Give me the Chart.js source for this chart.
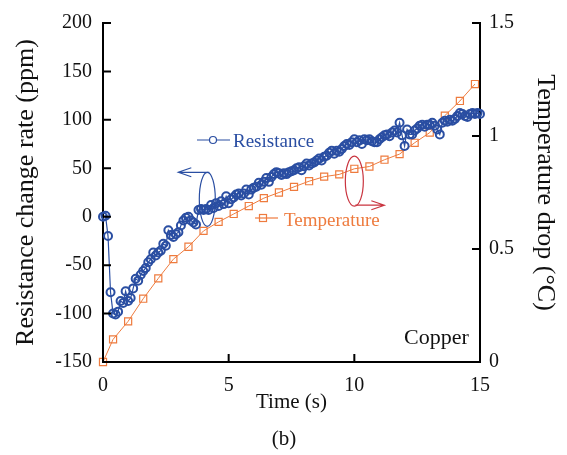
<!DOCTYPE html>
<html>
<head>
<meta charset="utf-8">
<script src="https://cdn.jsdelivr.net/npm/chart.js@4.4.1/dist/chart.umd.min.js"></script>
<style>
    html, body { margin: 0; padding: 0; background: #fff; }
    #wrap { width: 567px; height: 455px; position: relative; }
</style>
</head>
<body>
<div id="wrap"><canvas id="chart"></canvas></div>
<script>
(function () {
    "use strict";

    const serif = "'Liberation Serif', 'Times New Roman', Times, serif";
    const blue = "#2a4ea2";
    const orange = "#ee7b3e";
    const red = "#c9343f";

    // Resistance change rate (ppm) against time (s)
    const resTime = [
        0.0, 0.1, 0.2, 0.3, 0.4, 0.5, 0.6, 0.7, 0.8, 0.9,
        1.0, 1.1, 1.2, 1.3, 1.4, 1.5, 1.6, 1.7, 1.8, 1.9,
        2.0, 2.1, 2.2, 2.3, 2.4, 2.5, 2.6, 2.7, 2.8, 2.9,
        3.0, 3.1, 3.2, 3.3, 3.4, 3.5, 3.6, 3.7, 3.8, 3.9,
        4.0, 4.1, 4.2, 4.3, 4.4, 4.5, 4.6, 4.7, 4.8, 4.9,
        5.0, 5.1, 5.2, 5.3, 5.4, 5.5, 5.6, 5.7, 5.8, 5.9,
        6.0, 6.1, 6.2, 6.3, 6.4, 6.5, 6.6, 6.7, 6.8, 6.9,
        7.0, 7.1, 7.2, 7.3, 7.4, 7.5, 7.6, 7.7, 7.8, 7.9,
        8.0, 8.1, 8.2, 8.3, 8.4, 8.5, 8.6, 8.7, 8.8, 8.9,
        9.0, 9.1, 9.2, 9.3, 9.4, 9.5, 9.6, 9.7, 9.8, 9.9,
        10.0, 10.1, 10.2, 10.3, 10.4, 10.5, 10.6, 10.7, 10.8, 10.9,
        11.0, 11.1, 11.2, 11.3, 11.4, 11.5, 11.6, 11.7, 11.8, 11.9,
        12.0, 12.1, 12.2, 12.3, 12.4, 12.5, 12.6, 12.7, 12.8, 12.9,
        13.0, 13.1, 13.2, 13.3, 13.4, 13.5, 13.6, 13.7, 13.8, 13.9,
        14.0, 14.1, 14.2, 14.3, 14.4, 14.5, 14.6, 14.7, 14.8, 14.9,
        15.0
    ];
    const resPpm = [
        0, 1, -20, -78, -100, -101, -98, -87, -89, -77,
        -87, -84, -74, -64, -66, -60, -56, -53, -47, -44,
        -37, -40, -37, -35, -28, -30, -14, -19, -21, -18,
        -16, -9, -4, -1, 0, -4, -6, -8, 7, 8,
        7, 8, 7, 12, 9, 14, 11, 16, 13, 21,
        14, 18, 20, 23, 24, 22, 24, 28, 23, 28,
        30, 31, 35, 33, 36, 40, 36, 41, 44, 46,
        45, 43, 45, 44, 46, 47, 48, 50, 51, 48,
        52, 55, 53, 55, 56, 58, 60, 58, 62, 63,
        66, 68, 65, 68, 67, 70, 73, 75, 74, 77,
        80, 77, 79, 75, 80, 79, 80, 78, 77, 77,
        80, 82, 84, 85, 83, 87, 89, 87, 97, 84,
        73, 90, 85, 85, 89, 91, 94, 95, 93, 95,
        95, 97, 94, 90, 85, 97, 99, 98, 100, 99,
        101, 104, 107, 106, 104, 103, 106, 107, 106, 107,
        106
    ];

    // Temperature drop (°C) against time (s)
    const tempTime = [
        0, 0.4, 1.0, 1.6, 2.2, 2.8, 3.4, 4.0, 4.6, 5.2, 5.8, 6.4, 7.0,
        7.6, 8.2, 8.8, 9.4, 10.0, 10.6, 11.2, 11.8, 12.4, 13.0, 13.6, 14.2, 14.8
    ];
    const tempDrop = [
        0, 0.10, 0.18, 0.28, 0.37, 0.455, 0.51, 0.58, 0.62, 0.655, 0.69, 0.725, 0.75,
        0.775, 0.80, 0.82, 0.83, 0.855, 0.865, 0.895, 0.92, 0.97, 1.015, 1.09, 1.155, 1.23
    ];

    // Tick values
    const timeTicks = [0, 5, 10, 15];
    const ppmTicks = [-150, -100, -50, 0, 50, 100, 150, 200];
    const tempTicks = [0, 0.5, 1, 1.5];

    const toPoints = (xs, ys) => xs.map((x, i) => ({ x: x, y: ys[i] }));
    const fixTicks = (values) => (scale) => {
        scale.ticks = values.map((v) => ({ value: v }));
    };

    // Inward tick marks and drawn notes
    const decorations = {
        id: "decorations",
        afterDraw(chart) {
            const { ctx, chartArea: a, scales } = chart;
            const len = 8;
            ctx.save();
            ctx.strokeStyle = "#000";
            ctx.lineWidth = 2;
            ctx.beginPath();
            timeTicks.forEach((v) => {
                const px = scales.x.getPixelForValue(v);
                ctx.moveTo(px, a.bottom);
                ctx.lineTo(px, a.bottom - len);
            });
            ppmTicks.forEach((v) => {
                const py = scales.y.getPixelForValue(v);
                ctx.moveTo(a.left, py);
                ctx.lineTo(a.left + len, py);
            });
            tempTicks.forEach((v) => {
                const py = scales.y2.getPixelForValue(v);
                ctx.moveTo(a.right, py);
                ctx.lineTo(a.right - len, py);
            });
            ctx.stroke();

            // blue ellipse with arrow to the left axis
            const bx = scales.x.getPixelForValue(4.15);
            const by = scales.y.getPixelForValue(18);
            ctx.strokeStyle = blue;
            ctx.lineWidth = 1.2;
            ctx.beginPath();
            ctx.ellipse(bx, by, 8, 27, 0, 0, Math.PI * 2);
            ctx.stroke();
            ctx.beginPath();
            ctx.moveTo(bx + 2, by - 27);
            ctx.lineTo(bx - 29, by - 27);
            ctx.moveTo(bx - 16, by - 31.5);
            ctx.lineTo(bx - 29, by - 27);
            ctx.lineTo(bx - 16, by - 22.5);
            ctx.stroke();

            // red ellipse with arrow to the right axis
            const rx = scales.x.getPixelForValue(10.0);
            const ry = scales.y2.getPixelForValue(0.8);
            ctx.strokeStyle = red;
            ctx.beginPath();
            ctx.ellipse(rx, ry, 9, 25, 0, 0, Math.PI * 2);
            ctx.stroke();
            ctx.beginPath();
            ctx.moveTo(rx + 1, ry + 24);
            ctx.lineTo(rx + 30, ry + 24);
            ctx.moveTo(rx + 17, ry + 19.5);
            ctx.lineTo(rx + 30, ry + 24);
            ctx.lineTo(rx + 17, ry + 28.5);
            ctx.stroke();

            // series keys
            ctx.lineWidth = 1.2;
            ctx.strokeStyle = blue;
            ctx.beginPath();
            ctx.moveTo(197, 140);
            ctx.lineTo(230, 140);
            ctx.stroke();
            ctx.beginPath();
            ctx.fillStyle = "#fff";
            ctx.arc(213, 140, 3.5, 0, Math.PI * 2);
            ctx.fill();
            ctx.stroke();

            ctx.strokeStyle = orange;
            ctx.beginPath();
            ctx.moveTo(255, 218);
            ctx.lineTo(278, 218);
            ctx.stroke();
            ctx.strokeRect(259.5, 214.5, 7, 7);

            ctx.font = "19px " + serif;
            ctx.textBaseline = "alphabetic";
            ctx.textAlign = "left";
            ctx.fillStyle = blue;
            ctx.fillText("Resistance", 233, 147);
            ctx.fillStyle = orange;
            ctx.fillText("Temperature", 284, 226);

            ctx.fillStyle = "#111";
            ctx.font = "22px " + serif;
            ctx.fillText("Copper", 404, 344);

            ctx.font = "21px " + serif;
            ctx.textAlign = "center";
            ctx.textBaseline = "middle";
            ctx.fillText("(b)", 284, 439);
            ctx.restore();
        },
    };

    const ctx = document.getElementById("chart").getContext("2d");
    new Chart(ctx, {
        type: "line",
        data: {
            datasets: [
                {
                    label: "Resistance",
                    data: toPoints(resTime, resPpm),
                    yAxisID: "y",
                    borderColor: blue,
                    borderWidth: 1.2,
                    backgroundColor: "rgba(0,0,0,0)",
                    pointStyle: "circle",
                    pointRadius: 4,
                    pointBorderWidth: 2,
                    pointBorderColor: blue,
                    pointBackgroundColor: "rgba(0,0,0,0)",
                    tension: 0,
                    clip: false,
                },
                {
                    label: "Temperature",
                    data: toPoints(tempTime, tempDrop),
                    yAxisID: "y2",
                    borderColor: orange,
                    borderWidth: 1,
                    backgroundColor: "rgba(0,0,0,0)",
                    pointStyle: "rect",
                    pointRadius: 5,
                    pointBorderWidth: 1.2,
                    pointBorderColor: orange,
                    pointBackgroundColor: "rgba(0,0,0,0)",
                    tension: 0,
                    clip: false,
                },
            ],
        },
        options: {
            animation: false,
            responsive: true,
            maintainAspectRatio: false,
            devicePixelRatio: 1,
            layout: {
                autoPadding: false,
                padding: { top: 20, left: 0, right: 0, bottom: 0 },
            },
            plugins: {
                legend: { display: false },
                tooltip: { enabled: false },
            },
            scales: {
                x: {
                    type: "linear",
                    min: 0,
                    max: 15,
                    afterBuildTicks: fixTicks(timeTicks),
                    afterFit: (scale) => { scale.height = 93; },
                    grid: { display: false, drawTicks: false },
                    border: { display: true, color: "#000", width: 2 },
                    ticks: { padding: 12, color: "#111", font: { family: serif, size: 20 } },
                    title: {
                        display: true,
                        text: "Time (s)",
                        color: "#111",
                        font: { family: serif, size: 21 },
                        padding: { top: 0, bottom: 40 },
                    },
                },
                y: {
                    position: "left",
                    min: -150,
                    max: 200,
                    afterBuildTicks: fixTicks(ppmTicks),
                    afterFit: (scale) => { scale.width = 103; },
                    grid: { display: false, drawTicks: false },
                    border: { display: true, color: "#000", width: 2 },
                    ticks: { padding: 11, color: "#111", font: { family: serif, size: 20 } },
                    title: {
                        display: true,
                        text: "Resistance change rate (ppm)",
                        color: "#111",
                        font: { family: serif, size: 26 },
                        padding: { top: 11, bottom: 0 },
                    },
                },
                y2: {
                    position: "right",
                    min: 0,
                    max: 1.5,
                    afterBuildTicks: fixTicks(tempTicks),
                    afterFit: (scale) => { scale.width = 87; },
                    grid: { display: false, drawTicks: false },
                    border: { display: true, color: "#000", width: 2 },
                    ticks: {
                        padding: 9,
                        color: "#111",
                        font: { family: serif, size: 20 },
                        callback: (value) => String(value),
                    },
                    title: {
                        display: true,
                        text: "Temperature drop (°C)",
                        color: "#111",
                        font: { family: serif, size: 26 },
                        padding: { top: 7, bottom: 0 },
                    },
                },
            },
        },
        plugins: [decorations],
    });
})();
</script>
</body>
</html>
